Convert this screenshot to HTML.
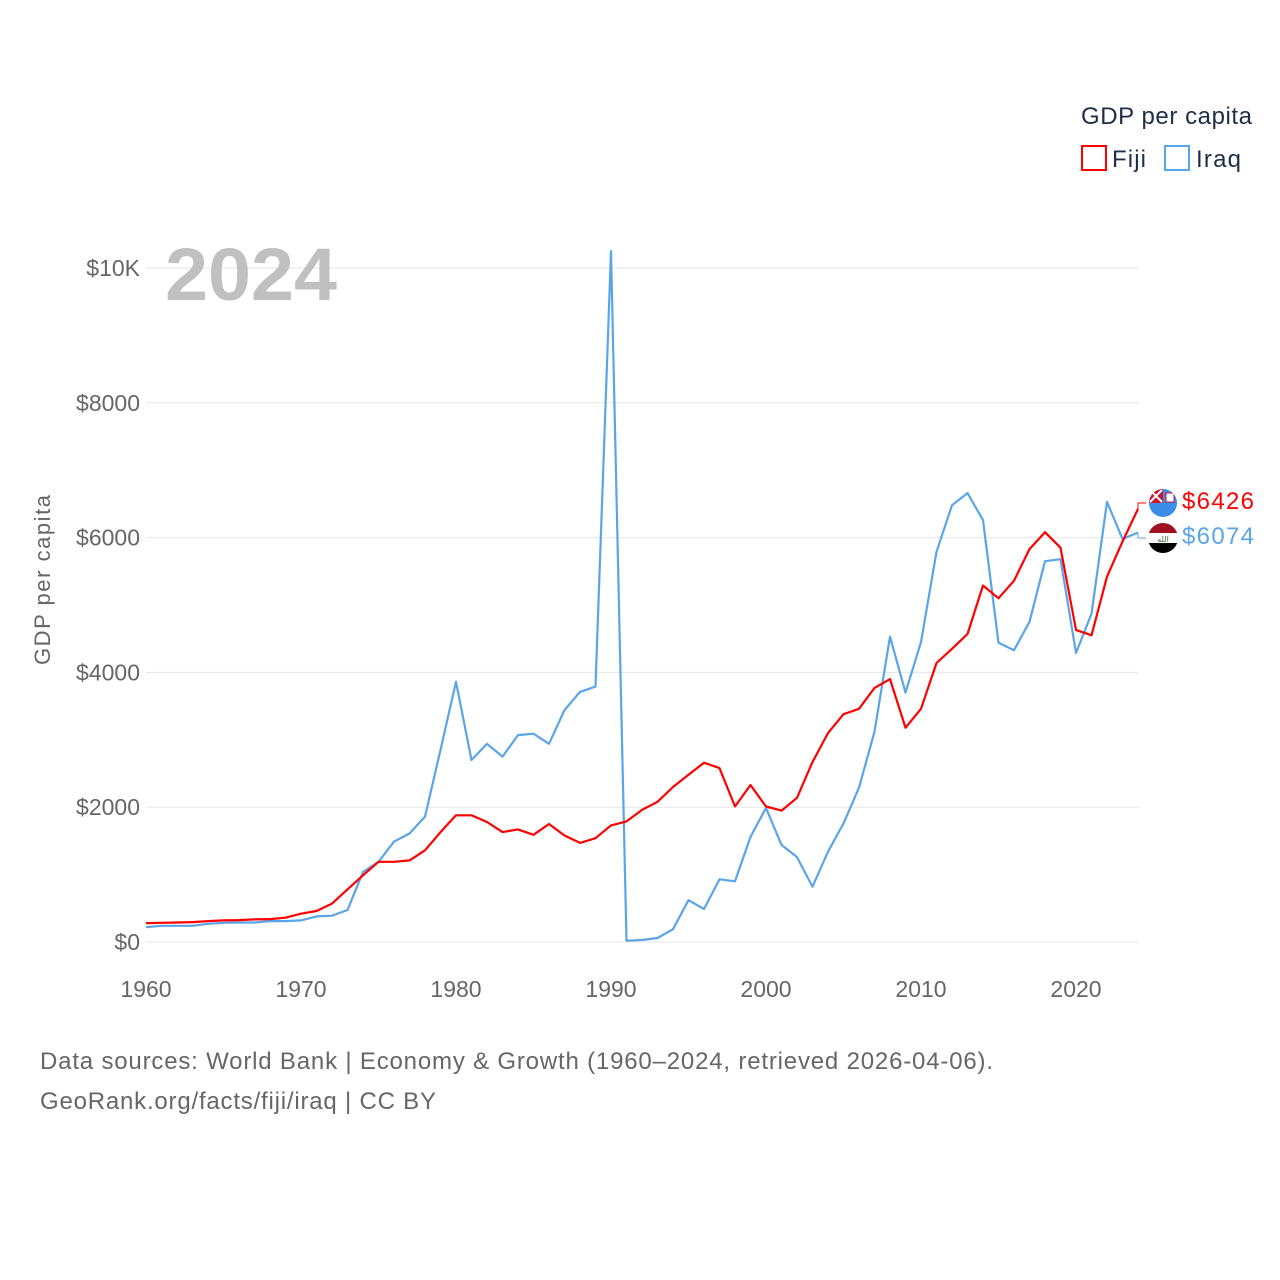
<!DOCTYPE html>
<html><head><meta charset="utf-8"><style>
html,body{margin:0;padding:0;background:#fff;width:1280px;height:1280px;overflow:hidden}
svg text{font-family:"Liberation Sans",sans-serif}
</style></head><body>
<svg id="chart" width="1280" height="1280" viewBox="0 0 1280 1280" xmlns="http://www.w3.org/2000/svg">
<g id="grid"></g>
<g id="yticks"></g>
<g id="xticks"></g>
<text x="165" y="300" font-size="74" font-weight="bold" fill="#c0c0c0" textLength="172" lengthAdjust="spacingAndGlyphs">2024</text>
<text transform="translate(50,580) rotate(-90)" text-anchor="middle" font-size="22" fill="#666" textLength="170">GDP per capita</text>
<g id="series"></g>
<g>
<text x="1081" y="124" font-size="24" fill="#1f2d4a" textLength="171">GDP per capita</text>
<g><rect x="1082" y="146" width="24" height="24" fill="none" stroke="#ff0000" stroke-width="2"/><text x="1112" y="167" font-size="24" fill="#1f2d4a" textLength="34">Fiji</text></g>
<g><rect x="1165" y="146" width="24" height="24" fill="none" stroke="#5aa5e8" stroke-width="2"/><text x="1196" y="167" font-size="24" fill="#1f2d4a" textLength="45">Iraq</text></g>
</g>
<g id="endlabels">
<g>
<clipPath id="cf"><circle cx="1163" cy="503" r="14"/></clipPath>
<g clip-path="url(#cf)"><rect x="1149" y="489" width="28" height="28" fill="#3b8de8"/><rect x="1149" y="489" width="14" height="14" fill="#cf142b"/><path d="M1150 490 L1162 502 M1162 490 L1150 502" stroke="#fff" stroke-width="2"/><rect x="1166" y="493" width="8" height="9" fill="#fff" stroke="#cf142b"/></g>
</g>
<g>
<clipPath id="ci"><circle cx="1163" cy="538" r="15"/></clipPath>
<g clip-path="url(#ci)"><rect x="1148" y="523" width="30" height="10" fill="#a0101e"/><rect x="1148" y="533" width="30" height="10" fill="#fff"/><rect x="1148" y="543" width="30" height="10" fill="#000"/><text x="1163" y="542" text-anchor="middle" font-size="8" fill="#356c2f">الله</text></g>
</g>
<text x="1182" y="509" font-size="24" fill="#ff0000" textLength="72">$6426</text>
<text x="1182" y="544" font-size="24" fill="#5aa5e8" textLength="72">$6074</text>
</g>
<text x="40" y="1069" font-size="24" fill="#666" textLength="953">Data sources: World Bank | Economy &amp; Growth (1960–2024, retrieved 2026-04-06).</text>
<text x="40" y="1109" font-size="24" fill="#666" textLength="396">GeoRank.org/facts/fiji/iraq | CC BY</text>
</svg>
<script>
const years = [];
for (let y = 1960; y <= 2024; y++) years.push(y);
const fiji = [280,285,290,295,310,320,325,335,340,360,420,460,570,780,990,1190,1190,1210,1360,1630,1880,1880,1780,1630,1670,1590,1750,1580,1470,1540,1730,1790,1960,2080,2300,2480,2660,2580,2010,2330,2010,1950,2140,2670,3100,3380,3460,3770,3900,3180,3460,4140,4350,4570,5290,5100,5360,5830,6080,5850,4630,4550,5420,5940,6426];
const iraq = [220,240,240,240,270,285,290,290,310,310,320,380,390,475,1040,1190,1490,1610,1860,2850,3860,2700,2940,2750,3070,3090,2940,3440,3710,3790,10250,20,30,60,190,620,490,930,900,1560,1990,1440,1260,820,1340,1760,2290,3120,4530,3700,4450,5790,6480,6660,6260,4440,4330,4750,5650,5680,4290,4870,6530,5980,6074];
const yTickVals = [0,2000,4000,6000,8000,10000];
const yTickLabels = ["$0","$2000","$4000","$6000","$8000","$10K"];
const xTickVals = [1960,1970,1980,1990,2000,2010,2020];

const NS = "http://www.w3.org/2000/svg";
const X = yr => 146 + (yr - 1960) * 15.5;
const Y = v => 942 - v * 0.0674;
function mk(tag, attrs, parent){const e=document.createElementNS(NS,tag);for(const k in attrs)e.setAttribute(k,attrs[k]);parent.appendChild(e);return e;}
const grid=document.getElementById('grid'), yt=document.getElementById('yticks'), xt=document.getElementById('xticks'), ser=document.getElementById('series');
yTickVals.forEach((v,i)=>{
  const l=mk('line',{x1:146,x2:1138,y1:Y(v),y2:Y(v),stroke:'#e6e6e6','stroke-width':1},grid);
  
  
  const t=mk('text',{x:140,y:Y(v)+8,'text-anchor':'end','font-size':23,fill:'#666'},yt);
  t.textContent=yTickLabels[i];
  
  
});
xTickVals.forEach(v=>{
  const t=mk('text',{x:X(v),y:997,'text-anchor':'middle','font-size':23,fill:'#666'},xt);
  t.textContent=v;
  
  
});
function line(data,color,name){
  const d=data.map((v,i)=>(i?'L':'M')+X(years[i]).toFixed(1)+' '+Y(v).toFixed(1)).join(' ');
  const p=mk('path',{d:d,fill:'none',stroke:color,'stroke-width':2.2,'stroke-linejoin':'round'},ser);
  
  
}
line(iraq,'#5aa5e8','iraq-line');
line(fiji,'#ff0000','fiji-line');
const fe=Y(fiji[fiji.length-1]), ie=Y(iraq[iraq.length-1]);
const c1=mk('path',{d:`M1138 ${fe} L1138 503 L1146 503`,fill:'none',stroke:'#ff0000','stroke-width':1},ser);


const c2=mk('path',{d:`M1138 ${ie} L1138 538 L1146 538`,fill:'none',stroke:'#5aa5e8','stroke-width':1},ser);


</script>
</body></html>
